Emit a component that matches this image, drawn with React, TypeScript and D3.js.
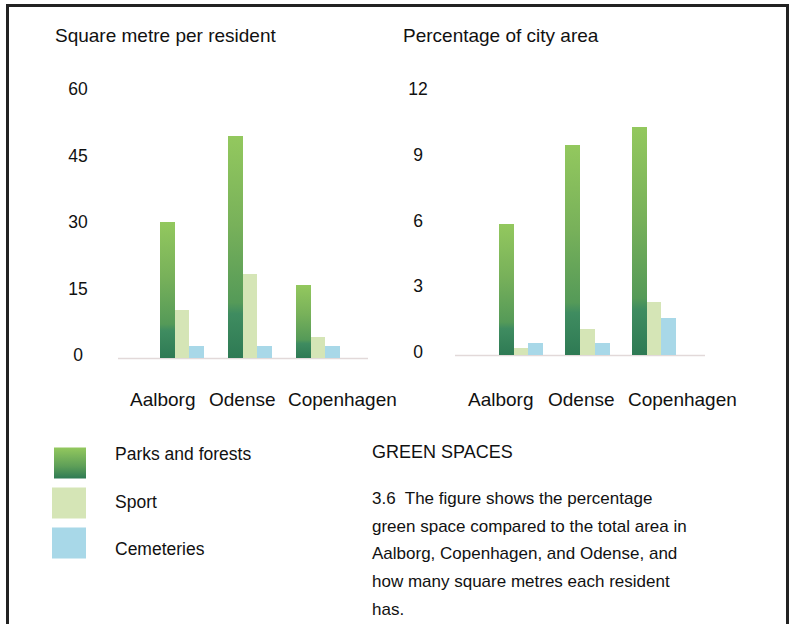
import React from "react";
import * as d3 from "d3";

const cities = ["Aalborg", "Odense", "Copenhagen"];
const series = ["Parks and forests", "Sport", "Cemeteries"];
const perResident = [
  [30.7, 10.8, 2.8],
  [50.0, 19.0, 2.8],
  [16.5, 4.7, 2.8],
];
const percentArea = [
  [6.0, 0.3, 0.55],
  [9.6, 1.2, 0.55],
  [10.4, 2.4, 1.7],
];
const leftTicks = [0, 15, 30, 45, 60];
const rightTicks = [0, 3, 6, 9, 12];
const leftTitle = "Square metre per resident";
const rightTitle = "Percentage of city area";
const heading = "GREEN SPACES";
const captionLines = [
  "3.6\u00a0 The figure shows the percentage",
  "green space compared to the total area in",
  "Aalborg, Copenhagen, and Odense, and",
  "how many square metres each resident",
  "has.",
];

const FONT = "'Liberation Sans', Arial, Helvetica, sans-serif";
const SPORT = "#d5e5b6";
const CEM = "#a8d8e8";

type PanelProps = {
  data: number[][];
  ticks: number[];
  title: string;
  titleX: number;
  yTop: number;
  yBase: number;
  maxV: number;
  groupRange: [number, number];
  paddingInner: number;
  axisLine: [number, number];
  tickX: number;
  labelStart: number;
  labelStep: number;
};

function Panel(p: PanelProps) {
  const y = d3.scaleLinear().domain([0, p.maxV]).range([p.yBase, p.yTop]);
  const x0 = d3.scaleBand<string>().domain(cities).range(p.groupRange).paddingInner(p.paddingInner).paddingOuter(0);
  const x1 = d3.scaleBand<string>().domain(series).range([0, x0.bandwidth()]);
  const lx = d3.scalePoint<string>().domain(cities).range([p.labelStart, p.labelStart + p.labelStep * 2]);
  const fills = ["url(#parksGrad)", SPORT, CEM];
  return (
    <g>
      <text x={p.titleX} y={42} fontSize={19} fill="#111" fontFamily={FONT}>{p.title}</text>
      {p.ticks.map((t) => (
        <text key={t} x={p.tickX} y={y(t) + 3} fontSize={17.5} textAnchor="middle" fill="#111" fontFamily={FONT}>{t}</text>
      ))}
      <line x1={p.axisLine[0]} x2={p.axisLine[1]} y1={p.yBase + 0.5} y2={p.yBase + 0.5} stroke="#e2d9d9" strokeWidth={1.5} />
      {cities.map((c, ci) => (
        <g key={c} transform={`translate(${x0(c)},0)`}>
          {series.map((s, si) => {
            const v = p.data[ci][si];
            return (
              <rect key={s} x={x1(s)} y={y(v)} width={x1.bandwidth()} height={p.yBase - y(v)} fill={fills[si]} shapeRendering="crispEdges" />
            );
          })}
        </g>
      ))}
      {cities.map((c) => (
        <text key={c} x={lx(c)} y={406} fontSize={19} fill="#111" fontFamily={FONT}>{c}</text>
      ))}
    </g>
  );
}

export default function App() {
  const swatchY = d3.scalePoint<string>().domain(series).range([463, 543]);
  const labelY = d3.scalePoint<string>().domain(series).range([460, 555]);
  const legendFills = ["url(#parksGrad2)", SPORT, CEM];
  return (
    <svg width={790} height={624} style={{ position: "absolute", left: 0, top: 0, background: "#fff" }}>
      <defs>
        <linearGradient id="parksGrad" x1="0" y1="0" x2="0" y2="1">
          <stop offset="0%" stopColor="#93c85e" />
          <stop offset="40%" stopColor="#78b15a" />
          <stop offset="75%" stopColor="#559a58" />
          <stop offset="80%" stopColor="#3f8c60" />
          <stop offset="100%" stopColor="#2e7a54" />
        </linearGradient>
        <linearGradient id="parksGrad2" x1="0" y1="0" x2="0" y2="1">
          <stop offset="0%" stopColor="#93c85e" />
          <stop offset="60%" stopColor="#5e9f58" />
          <stop offset="100%" stopColor="#2e7a54" />
        </linearGradient>
      </defs>
      <rect x={0} y={0} width={790} height={624} fill="#fff" />
      <rect x={7.5} y={5.5} width={780} height={640} fill="none" stroke="#222" strokeWidth={3} />
      <Panel
        data={perResident}
        ticks={leftTicks}
        title={leftTitle}
        titleX={55}
        yTop={92}
        yBase={358}
        maxV={60}
        groupRange={[160, 340]}
        paddingInner={0.353}
        axisLine={[118, 368]}
        tickX={78}
        labelStart={130}
        labelStep={79}
      />
      <Panel
        data={percentArea}
        ticks={rightTicks}
        title={rightTitle}
        titleX={403}
        yTop={92}
        yBase={355}
        maxV={12}
        groupRange={[499, 676]}
        paddingInner={0.338}
        axisLine={[455, 705]}
        tickX={418}
        labelStart={468}
        labelStep={80}
      />
      {series.map((s, i) => (
        <g key={s}>
          <rect x={i === 0 ? 54 : 52} y={(swatchY(s) as number) - 15.5} width={i === 0 ? 32 : 34} height={31} fill={legendFills[i]} />
          <text x={115} y={labelY(s)} fontSize={17.5} fill="#111" fontFamily={FONT}>{s}</text>
        </g>
      ))}
      <text x={372} y={458} fontSize={18} fill="#111" fontFamily={FONT}>{heading}</text>
      {captionLines.map((l, i) => (
        <text key={i} x={372} y={504 + i * 27.7} fontSize={17} fill="#111" fontFamily={FONT}>{l}</text>
      ))}
    </svg>
  );
}
